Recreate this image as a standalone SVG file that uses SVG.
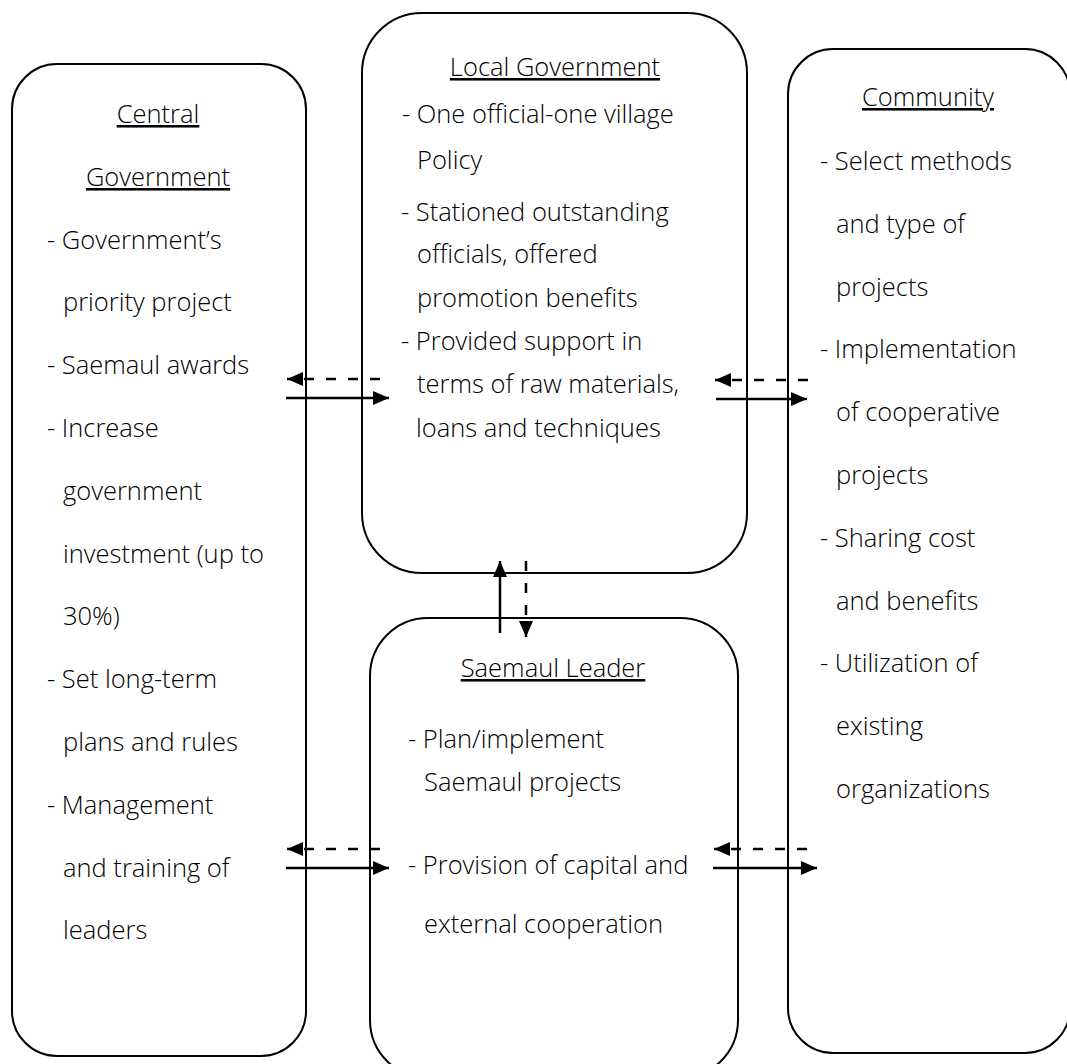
<svg xmlns="http://www.w3.org/2000/svg" width="1067" height="1064" viewBox="0 0 1067 1064">
<style>
.box{fill:#fff;stroke:#000;stroke-width:2}
.t{font-family:"Open Sans","Noto Sans",sans-serif;font-size:25.5px;font-weight:300;fill:#000}
.h{text-anchor:middle;text-decoration:underline}
.s{stroke:#000;stroke-width:2.5;fill:none}
.d{stroke:#000;stroke-width:2.5;fill:none;stroke-dasharray:10 12}
</style>
<defs>
<marker id="ah" markerUnits="userSpaceOnUse" markerWidth="16" markerHeight="14" refX="16" refY="7" orient="auto">
<path d="M0,0 L16,7 L0,14 z" fill="#000"/>
</marker>
</defs>
<rect width="1067" height="1064" fill="#fff"/>
<g id="central">
<rect class="box" x="12" y="64" width="294" height="992" rx="45"/>
<text class="t h" x="158" y="123">Central</text>
<text class="t h" x="158" y="186">Government</text>
<text class="t" x="47" y="249">- Government’s</text>
<text class="t" x="63" y="311">priority project</text>
<text class="t" x="47" y="374">- Saemaul awards</text>
<text class="t" x="47" y="437">- Increase</text>
<text class="t" x="63" y="500">government</text>
<text class="t" x="63" y="563">investment (up to</text>
<text class="t" x="63" y="625">30%)</text>
<text class="t" x="47" y="688">- Set long-term</text>
<text class="t" x="63" y="751">plans and rules</text>
<text class="t" x="47" y="814">- Management</text>
<text class="t" x="63" y="877">and training of</text>
<text class="t" x="63" y="939">leaders</text>
</g>
<g id="local">
<rect class="box" x="362" y="13" width="385" height="560" rx="60"/>
<text class="t h" x="555" y="76">Local Government</text>
<text class="t" x="402" y="123">- One official-one village</text>
<text class="t" x="417" y="169">Policy</text>
<text class="t" x="401" y="221">- Stationed outstanding</text>
<text class="t" x="417" y="263">officials, offered</text>
<text class="t" x="417" y="307">promotion benefits</text>
<text class="t" x="401" y="350">- Provided support in</text>
<text class="t" x="417" y="393">terms of raw materials,</text>
<text class="t" x="416" y="437">loans and techniques</text>
</g>
<g id="leader">
<rect class="box" x="370" y="618" width="368" height="460" rx="58"/>
<text class="t h" x="553" y="677">Saemaul Leader</text>
<text class="t" x="408" y="748">- Plan/implement</text>
<text class="t" x="424" y="791">Saemaul projects</text>
<text class="t" x="408" y="874">- Provision of capital and</text>
<text class="t" x="424" y="933">external cooperation</text>
</g>
<g id="community">
<rect class="box" x="788" y="49" width="282" height="1004" rx="45"/>
<text class="t h" x="928" y="106">Community</text>
<text class="t" x="820" y="170">- Select methods</text>
<text class="t" x="836" y="233">and type of</text>
<text class="t" x="836" y="296">projects</text>
<text class="t" x="820" y="358">- Implementation</text>
<text class="t" x="836" y="421">of cooperative</text>
<text class="t" x="836" y="484">projects</text>
<text class="t" x="820" y="547">- Sharing cost</text>
<text class="t" x="836" y="610">and benefits</text>
<text class="t" x="820" y="672">- Utilization of</text>
<text class="t" x="836" y="735">existing</text>
<text class="t" x="836" y="798">organizations</text>
</g>
<g id="connectors">
<path class="d" d="M380,379 L287,379" marker-end="url(#ah)"/>
<path class="s" d="M286,398 L389,398" marker-end="url(#ah)"/>
<path class="d" d="M808,380 L715,380" marker-end="url(#ah)"/>
<path class="s" d="M716,399 L807,399" marker-end="url(#ah)"/>
<path class="s" d="M500,633 L500,561" marker-end="url(#ah)"/>
<path class="d" d="M526,561 L526,637" marker-end="url(#ah)"/>
<path class="d" d="M380,849 L287,849" marker-end="url(#ah)"/>
<path class="s" d="M286,868 L389,868" marker-end="url(#ah)"/>
<path class="d" d="M807,849 L714,849" marker-end="url(#ah)"/>
<path class="s" d="M713,868 L817,868" marker-end="url(#ah)"/>
</g>
</svg>
